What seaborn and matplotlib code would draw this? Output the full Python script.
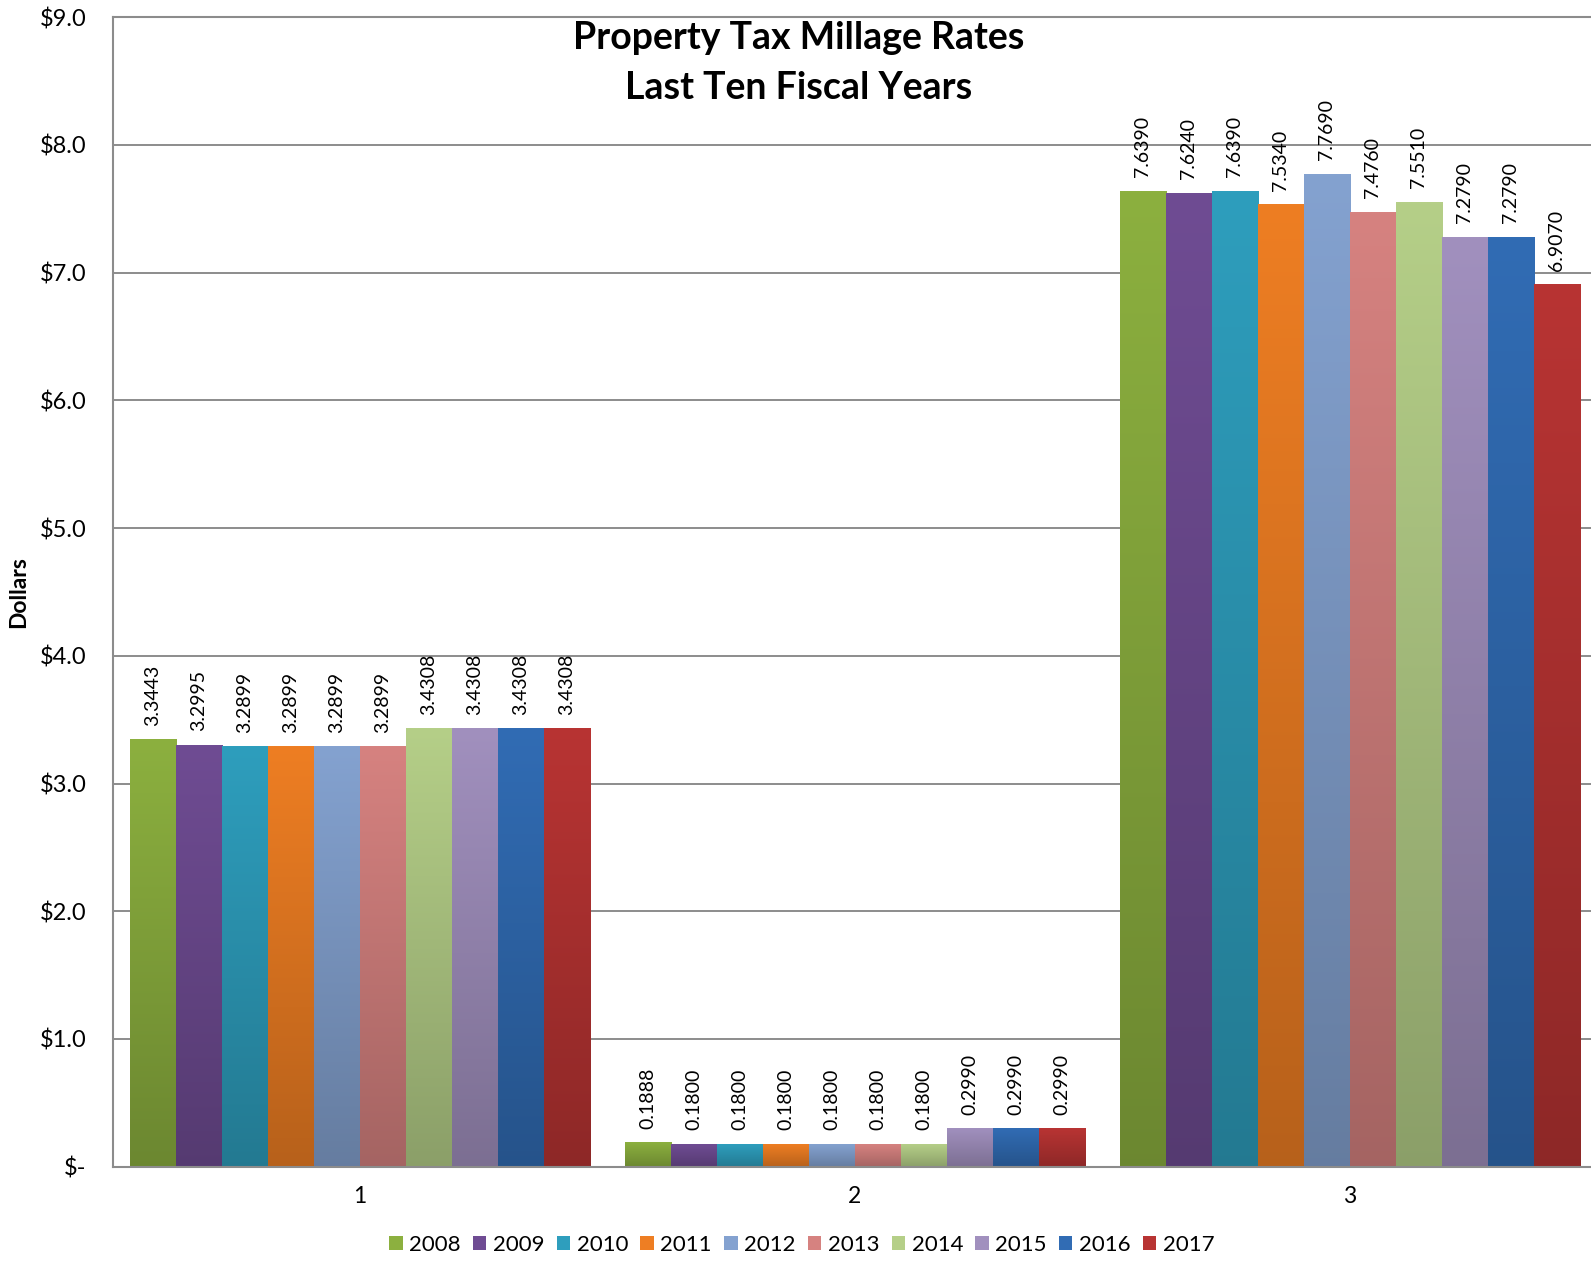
import numpy as np
import pandas as pd
import matplotlib
matplotlib.use("Agg")
import matplotlib.pyplot as plt
import seaborn as sns
from matplotlib.colors import to_rgb
from matplotlib.ticker import FixedLocator, FuncFormatter

# Categories and fiscal years
groups = ["1", "2", "3"]
years = ["2008", "2009", "2010", "2011", "2012",
         "2013", "2014", "2015", "2016", "2017"]

# Millage rates per group, one value per fiscal year
rates_group1 = [3.3443, 3.2995, 3.2899, 3.2899, 3.2899,
                3.2899, 3.4308, 3.4308, 3.4308, 3.4308]
rates_group2 = [0.1888, 0.1800, 0.1800, 0.1800, 0.1800,
                0.1800, 0.1800, 0.2990, 0.2990, 0.2990]
rates_group3 = [7.6390, 7.6240, 7.6390, 7.5340, 7.7690,
                7.4760, 7.5510, 7.2790, 7.2790, 6.9070]

y_ticks = [0, 1, 2, 3, 4, 5, 6, 7, 8, 9]

# Bar colours (top of the gradient); bottoms are darkened
year_colors = ["#8CB03F", "#6F4C93", "#2E9EBD", "#EE7E23", "#84A2D0",
               "#D68280", "#B5CF88", "#A190BE", "#316CB4", "#B83433"]
shade = 0.77

rows = []
for g, vals in zip(groups, [rates_group1, rates_group2, rates_group3]):
    for yr, v in zip(years, vals):
        rows.append({"group": g, "year": yr, "rate": v})
df = pd.DataFrame(rows)

sns.set_style("white")
plt.rcParams["font.family"] = ["Lato", "DejaVu Sans"]
plt.rcParams["text.color"] = "black"
plt.rcParams["xtick.color"] = "black"
plt.rcParams["ytick.color"] = "black"

fig = plt.figure(figsize=(15.91, 12.61), dpi=100)
ax = fig.add_axes([0.0708, 0.0748, 0.933, 0.9116])

sns.barplot(data=df, x="group", y="rate", hue="year", order=groups,
            hue_order=years, palette=year_colors, width=0.93, saturation=1,
            errorbar=None, linewidth=0, ax=ax)

# Vertical gradient fill on every bar
for container, col in zip(ax.containers, year_colors):
    top = np.array(to_rgb(col))
    bottom = top * shade
    grad = np.linspace(bottom, top, 256)[:, None, :]
    for bar in container:
        x0, w, h = bar.get_x(), bar.get_width(), bar.get_height()
        ax.imshow(grad, extent=(x0, x0 + w, 0, h), origin="lower",
                  aspect="auto", interpolation="bilinear",
                  zorder=bar.get_zorder() + 0.1)
    ax.bar_label(container, fmt="%.4f", rotation=90, padding=10,
                 fontsize=14, color="black")

ax.set_xlim(-0.5, 2.5)
ax.set_ylim(0, 9)

ax.yaxis.set_major_locator(FixedLocator(y_ticks))
ax.yaxis.set_major_formatter(
    FuncFormatter(lambda v, _: "$-" if v == 0 else f"${v:.1f}"))
ax.yaxis.grid(True, color="#8c8c8c", linewidth=1.4)
ax.set_axisbelow(True)

for side in ["left", "bottom", "top"]:
    ax.spines[side].set_color("#8c8c8c")
    ax.spines[side].set_linewidth(1.5)
ax.spines["right"].set_visible(False)

ax.tick_params(axis="x", length=0, pad=14, labelsize=16.5, labelcolor="black")
ax.tick_params(axis="y", length=0, pad=19, labelsize=17, labelcolor="black")
ax.set_xlabel("")
ax.set_ylabel("")

fig.text(18.3 / 1591, 1 - 592 / 1261, "Dollars", rotation=90,
         ha="center", va="center", fontsize=16.5, fontweight="bold")

fig.text(0.502, 1 - 38 / 1261, "Property Tax Millage Rates",
         ha="center", va="center", fontsize=27, fontweight="bold")
fig.text(0.502, 1 - 88 / 1261, "Last Ten Fiscal Years",
         ha="center", va="center", fontsize=27, fontweight="bold")

handles, labels = ax.get_legend_handles_labels()
if ax.get_legend() is not None:
    ax.get_legend().remove()
fig.legend(handles, labels, loc="center", bbox_to_anchor=(0.504, 1 - 1245 / 1261),
           ncol=10, frameon=False, fontsize=16, handlelength=0.6,
           handleheight=0.6, handletextpad=0.3, columnspacing=0.55)

fig.savefig("out.png", dpi=100)
